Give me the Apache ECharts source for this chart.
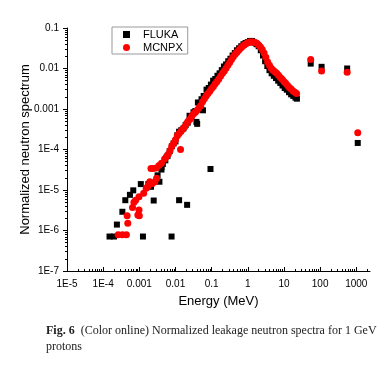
<!DOCTYPE html>
<html>
<head>
<meta charset="utf-8">
<script src="https://cdn.jsdelivr.net/npm/echarts@6/dist/echarts.min.js"></script>
<style>
html,body{margin:0;padding:0;background:#fff;}
#chart{width:385px;height:369px;}
</style>
</head>
<body>
<div id="chart"></div>
<script>
// ---- Data ----
const flukaE = [
  1.5e-4, 2.0e-4, 2.4e-4, 3.4e-4, 4.1e-4, 5.5e-4, 6.8e-4, 1.26e-3, 1.1e-3, 1.78e-3,
  2.1e-3, 2.5e-3, 3.6e-3, 7.8e-3, 0.0126, 0.021, 0.093, 3.2e-3, 4.1e-3, 4.1e-3,
  0.00447, 0.00525, 0.00603, 0.00692, 0.00794, 0.00891, 0.0100, 0.0112, 0.0126, 0.0145,
  0.0166, 0.0191, 0.0219, 0.0245, 0.0275, 0.0316, 0.0355, 0.0380, 0.0398, 0.0417,
  0.0468, 0.0525, 0.0575, 0.0603, 0.0724, 0.0832, 0.0955, 0.110, 0.126, 0.145,
  0.166, 0.191, 0.219, 0.251, 0.288, 0.331, 0.380, 0.437, 0.501, 0.575,
  0.661, 0.759, 0.871, 1.00, 1.15, 1.32, 1.51, 1.74, 2.00, 2.29,
  2.63, 3.02, 3.47, 3.98, 4.57, 5.25, 6.03, 6.92, 7.94, 9.12,
  10.5, 12.0, 13.8, 15.8, 18.2, 20.9, 22.9,
  55, 110, 560, 1100
];
const flukaY = [
  7.1e-7, 7.1e-7, 1.4e-6, 2.9e-6, 5.6e-6, 7.6e-6, 9.8e-6, 7.1e-7, 1.4e-5, 1.4e-5,
  1.2e-5, 5.5e-6, 1.6e-5, 7.1e-7, 5.6e-6, 4.3e-6, 3.3e-5, 2.3e-5, 3.2e-5, 3.7e-5,
  4.4e-5, 5.4e-5, 6.9e-5, 9.1e-5, 1.2e-4, 1.41e-4, 1.58e-4, 2.24e-4, 2.75e-4, 3.0e-4,
  3.3e-4, 4.0e-4, 4.6e-4, 6.8e-4, 6.5e-4, 8.3e-4, 8.9e-4, 4.8e-4, 4.3e-4, 1.45e-3,
  1.38e-3, 1.74e-3, 9.3e-4, 2.1e-3, 3.0e-3, 3.3e-3, 4.0e-3, 5.0e-3, 5.5e-3, 6.6e-3,
  7.6e-3, 9.1e-3, 0.0112, 0.0126, 0.0151, 0.0174, 0.0209, 0.024, 0.0282, 0.0316,
  0.0355, 0.0398, 0.0427, 0.0447, 0.0479, 0.0479, 0.0437, 0.0398, 0.0355, 0.0282,
  0.0209, 0.0151, 0.0115, 0.0091, 0.0076, 0.0066, 0.0058, 0.0050, 0.0044, 0.0038,
  0.0033, 0.0030, 0.0026, 0.0023, 0.0021, 0.0019, 0.0018,
  0.0132, 0.011, 0.0100, 1.45e-4
];
const mcnpxE = [
  2.6e-4, 3.4e-4, 4.4e-4, 4.8e-4, 4.6e-4, 6.5e-4, 9.1e-4, 9.8e-4, 7.9e-4, 9.8e-4,
  1.32e-3, 1.55e-3, 1.95e-3, 2.1e-3, 2.4e-3, 2.95e-3, 3.5e-3, 4.1e-3, 2.7e-3, 1.74e-3,
  7.1e-4, 1.0e-3, 0.0138, 2.3e-3, 3.0e-3,
  0.0050, 0.0056, 0.0063, 0.0071, 0.0079, 0.0089, 0.0100, 0.0112, 0.0126, 0.0141,
  0.0158, 0.0178, 0.0200, 0.0224, 0.0251, 0.0282, 0.0316, 0.0355, 0.0398, 0.0447,
  0.0501, 0.0562, 0.0631, 0.0708, 0.0794, 0.0891, 0.100, 0.112, 0.126, 0.141,
  0.158, 0.178, 0.200, 0.224, 0.251, 0.282, 0.316, 0.355, 0.398, 0.447,
  0.501, 0.562, 0.631, 0.708, 0.794, 0.891, 1.00, 1.12, 1.26, 1.41,
  1.58, 1.78, 2.00, 2.24, 2.51, 2.82, 3.16, 3.55, 3.98, 4.47,
  5.01, 5.62, 6.31, 7.08, 7.94, 8.91, 10.0, 11.2, 12.6, 14.1,
  15.8, 17.8, 20.0, 22.4,
  55, 110, 560, 1100
];
const mcnpxY = [
  7.8e-7, 7.8e-7, 7.8e-7, 1.5e-6, 2.3e-6, 3.7e-6, 2.4e-6, 3.2e-6, 5.6e-6, 6.8e-6,
  8.3e-6, 1.1e-5, 1.6e-5, 3.4e-5, 3.4e-5, 3.5e-5, 4.0e-5, 4.6e-5, 1.6e-5, 1.26e-5,
  5.0e-6, 2.3e-6, 1.0e-4, 1.45e-5, 1.95e-5,
  5.8e-5, 6.6e-5, 7.6e-5, 9.5e-5, 1.2e-4, 1.45e-4, 1.74e-4, 2.2e-4, 2.5e-4, 2.8e-4,
  3.2e-4, 3.6e-4, 4.3e-4, 5.0e-4, 5.6e-4, 6.6e-4, 7.6e-4, 8.3e-4, 9.3e-4, 1.07e-3,
  1.2e-3, 1.5e-3, 1.8e-3, 2.1e-3, 2.4e-3, 2.75e-3, 3.2e-3, 3.6e-3, 4.2e-3, 4.8e-3,
  5.5e-3, 6.5e-3, 7.6e-3, 8.7e-3, 0.0102, 0.012, 0.0141, 0.0166, 0.0195, 0.0224,
  0.0251, 0.0282, 0.0316, 0.0347, 0.038, 0.041, 0.043, 0.045, 0.045, 0.045,
  0.044, 0.042, 0.038, 0.034, 0.0295, 0.024, 0.019, 0.0145, 0.012, 0.0102,
  0.0091, 0.0083, 0.0076, 0.0068, 0.0060, 0.0054, 0.0048, 0.0043, 0.0038, 0.0034,
  0.0031, 0.0028, 0.0026, 0.0024,
  0.0166, 0.0087, 0.0081, 2.6e-4
];
const xTickValues = [1e-5, 1e-4, 1e-3, 1e-2, 1e-1, 1, 10, 100, 1000];
const xTickLabels = ['1E-5', '1E-4', '0.001', '0.01', '0.1', '1', '10', '100', '1000'];
const yTickValues = [1e-7, 1e-6, 1e-5, 1e-4, 1e-3, 1e-2, 1e-1];
const yTickLabels = ['1E-7', '1E-6', '1E-5', '1E-4', '0.001', '0.01', '0.1'];

function pair(xs, ys) { return xs.map((x, i) => [x, ys[i]]); }
function labelFor(vals, labs) {
  return function (v) {
    for (let i = 0; i < vals.length; i++) {
      if (Math.abs(v - vals[i]) <= vals[i] * 1e-6) return labs[i];
    }
    return '';
  };
}
// logarithmic minor tick positions (2..9 within each decade)
function logMinors(decades, limit) {
  const out = [];
  decades.forEach(d => { for (let k = 2; k <= 9; k++) { const v = d * k; if (v < limit) out.push(v); } });
  return out;
}

const xMin = 1e-5, xMax = 2400, yMin = 1e-7, yMax = 0.1;
const chart = echarts.init(document.getElementById('chart'), null, {renderer: 'canvas'});
const font = 'Liberation Sans, Arial, sans-serif';
const hidden = {show: false};
chart.setOption({
  animation: false,
  backgroundColor: '#fff',
  grid: {left: 67, right: 15, top: 28, bottom: 98, containLabel: false},
  legend: {
    orient: 'vertical', left: 112, top: 27,
    padding: [2, 5, 1, 11], itemGap: 2, itemWidth: 7, itemHeight: 7,
    borderColor: '#999', borderWidth: 1,
    textStyle: {fontFamily: font, fontSize: 11, color: '#000', padding: [0, 0, 0, 8]},
    data: [{name: 'FLUKA', icon: 'rect'}, {name: 'MCNPX', icon: 'circle'}]
  },
  xAxis: [{
    type: 'log', logBase: 10, min: xMin, max: xMax, splitNumber: 9,
    name: 'Energy (MeV)', nameLocation: 'middle', nameGap: 24, nameMoveOverlap: false,
    nameTextStyle: {fontFamily: font, fontSize: 13, color: '#000'},
    axisLine: {lineStyle: {color: '#000', width: 1}},
    axisTick: {inside: true, length: 4, lineStyle: {color: '#000'}, customValues: xTickValues},
    axisLabel: {fontFamily: font, fontSize: 10, color: '#000', margin: 8,
      formatter: labelFor(xTickValues, xTickLabels)},
    splitLine: hidden
  }, {
    type: 'log', logBase: 10, min: xMin, max: xMax, position: 'bottom',
    axisLine: hidden, axisLabel: hidden, splitLine: hidden,
    axisTick: {show: true, inside: true, length: 2, lineStyle: {color: '#000'},
      customValues: logMinors(xTickValues, xMax)}
  }],
  yAxis: [{
    type: 'log', logBase: 10, min: yMin, max: yMax, splitNumber: 6,
    name: 'Normalized neutron spectrum', nameLocation: 'middle', nameGap: 35, nameMoveOverlap: false,
    nameTextStyle: {fontFamily: font, fontSize: 13, color: '#000'},
    axisLine: {lineStyle: {color: '#000', width: 1}},
    axisTick: {inside: false, length: 4, lineStyle: {color: '#000'}},
    axisLabel: {fontFamily: font, fontSize: 10, color: '#000', margin: 8,
      formatter: labelFor(yTickValues, yTickLabels)},
    splitLine: hidden
  }, {
    type: 'log', logBase: 10, min: yMin, max: yMax, position: 'left',
    axisLine: hidden, axisLabel: hidden, splitLine: hidden,
    axisTick: {show: true, inside: false, length: 2, lineStyle: {color: '#000'},
      customValues: logMinors(yTickValues, yMax)}
  }],
  series: [
    {name: 'FLUKA', type: 'scatter', symbol: 'rect', symbolSize: 6,
     itemStyle: {color: '#000', opacity: 1}, data: pair(flukaE, flukaY), z: 2},
    {name: 'MCNPX', type: 'scatter', symbol: 'circle', symbolSize: 7,
     itemStyle: {color: '#ff0000', opacity: 1}, data: pair(mcnpxE, mcnpxY), z: 3}
  ],
  graphic: [
    {type: 'text', left: 46, top: 325,
     style: {text: '{b|Fig. 6}  (Color online) Normalized leakage neutron spectra for 1 GeV',
       font: '12px "Liberation Serif", "Times New Roman", serif', fill: '#222',
       rich: {b: {fontWeight: 'bold', fontFamily: 'Liberation Serif', fontSize: 12, fill: '#222'}}}},
    {type: 'text', left: 46, top: 341,
     style: {text: 'protons', font: '12px "Liberation Serif", "Times New Roman", serif', fill: '#222'}}
  ]
});
</script>
</body>
</html>
